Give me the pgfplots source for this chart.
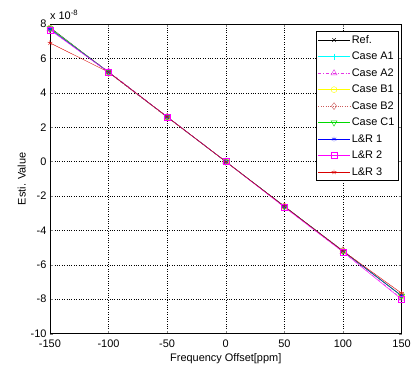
\documentclass[border=0pt]{standalone}
\usepackage{fontspec}
\setmainfont{Liberation Sans}
\usepackage{pgfplots}
\pgfplotsset{compat=1.18}
\definecolor{mcyan}{rgb}{0,1,1}
\definecolor{mmag}{rgb}{0.9,0.2,0.9}
\definecolor{myel}{rgb}{1,1,0}
\definecolor{mbrown}{rgb}{0.8,0.35,0.35}
\definecolor{mgreen}{rgb}{0,0.85,0}
\definecolor{mblue}{rgb}{0,0,1}
\definecolor{mmag2}{rgb}{1,0,1}
\definecolor{mred}{rgb}{0.85,0,0}
\begin{document}
\begin{tikzpicture}
\path (-50bp,-38bp) rectangle (364bp,334bp);
\begin{axis}[
  scale only axis, width=352bp, height=310bp,
  xmin=-150, xmax=150, ymin=-10, ymax=8,
  xtick={-150,-100,...,150}, ytick={-10,-8,...,8},
  grid=major, major grid style={black, dotted, line width=0.4pt},
  tick align=inside, tick pos=both, major tick length=3pt,
  axis line style={black, line width=0.6pt},
  tick label style={font=\fontsize{11}{12}\selectfont},
  /pgf/number format/assume math mode=true,
  xticklabel style={yshift=-3pt},
  xlabel={Frequency Offset[ppm]}, ylabel={Esti. Value},
  label style={font=\fontsize{11}{12}\selectfont},
  xlabel style={yshift=1pt},
  ylabel style={yshift=-2pt},
  legend style={at={(rel axis cs:0.9915,0.977)}, anchor=north east, font=\fontsize{11}{12}\selectfont, draw=black, row sep=3.4pt, inner sep=2pt, cells={anchor=west}},
  legend image code/.code={\draw[mark repeat=2,mark phase=2] plot coordinates {(0cm,0cm) (0.55cm,0cm) (1.1cm,0cm)};},
  clip=false,
]
\addplot[black, mark=x, mark size=2.5pt] coordinates {(-150,7.8) (-100,5.2) (-50,2.6) (0,0) (50,-2.6) (100,-5.2) (150,-7.8)};
\addlegendentry{Ref.}
\addplot[mcyan, mark=+, mark size=3pt] coordinates {(-150,7.75) (-100,5.2) (-50,2.6) (0,0) (50,-2.6) (100,-5.2) (150,-7.8)};
\addlegendentry{Case A1}
\addplot[mmag, dash dot, mark=triangle, mark size=3.5pt, mark options={solid}] coordinates {(-150,7.7) (-100,5.25) (-50,2.62) (0,0) (50,-2.65) (100,-5.25) (150,-7.95)};
\addlegendentry{Case A2}
\addplot[myel, mark=o, mark size=3pt] coordinates {(-150,7.75) (-100,5.2) (-50,2.6) (0,0) (50,-2.6) (100,-5.2) (150,-7.8)};
\addlegendentry{Case B1}
\addplot[mbrown, dotted, mark=diamond, mark size=3.5pt, mark options={solid}] coordinates {(-150,7.7) (-100,5.15) (-50,2.55) (0,0) (50,-2.6) (100,-5.15) (150,-7.75)};
\addlegendentry{Case B2}
\addplot[mgreen, mark=triangle, mark size=3.5pt, mark options={rotate=180}] coordinates {(-150,7.75) (-100,5.2) (-50,2.6) (0,0) (50,-2.6) (100,-5.2) (150,-7.8)};
\addlegendentry{Case C1}
\addplot[mblue, mark=asterisk, mark size=2.5pt] coordinates {(-150,7.7) (-100,5.2) (-50,2.6) (0,0) (50,-2.6) (100,-5.2) (150,-7.8)};
\addlegendentry{L\&R 1}
\addplot[mmag2, mark=square, mark size=3pt] coordinates {(-150,7.65) (-100,5.2) (-50,2.6) (0,0) (50,-2.65) (100,-5.25) (150,-8.0)};
\addlegendentry{L\&R 2}
\addplot[mred, mark=star, mark size=2.5pt] coordinates {(-150,6.9) (-100,5.2) (-50,2.6) (0,0) (50,-2.6) (100,-5.2) (150,-7.65)};
\addlegendentry{L\&R 3}
\node[anchor=south west, font=\fontsize{11}{12}\selectfont, inner sep=0pt] at (rel axis cs:0,1.012) {x 10\textsuperscript{-8}};
\end{axis}
\end{tikzpicture}
\end{document}
